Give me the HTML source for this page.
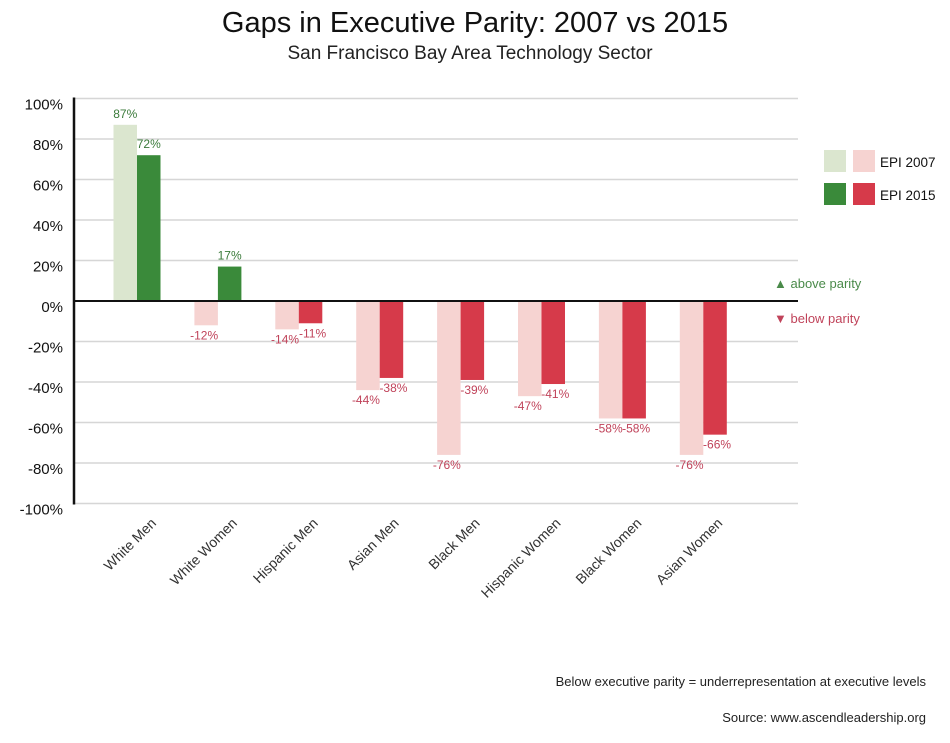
<!DOCTYPE html>
<html><head><meta charset="utf-8"><style>
html,body{margin:0;padding:0;background:#fff;}
body{width:950px;height:738px;overflow:hidden;font-family:"Liberation Sans",sans-serif;}
</style></head><body>
<svg width="950" height="738" viewBox="0 0 950 738" xmlns="http://www.w3.org/2000/svg" font-family="Liberation Sans, sans-serif">
<text x="475" y="32" text-anchor="middle" font-size="29" fill="#111">Gaps in Executive Parity: 2007 vs 2015</text>
<text x="470" y="59" text-anchor="middle" font-size="19" fill="#222">San Francisco Bay Area Technology Sector</text>
<g id="grid"></g>
<g id="bars"></g>
<g id="yaxis"></g>
<g id="xaxis"></g>
<g>
<rect x="824" y="150" width="22" height="22" fill="#dbe6cf"/>
<rect x="853" y="150" width="22" height="22" fill="#f6d3d1"/>
<text x="880" y="167" font-size="13.5" fill="#111">EPI 2007</text>
<rect x="824" y="183" width="22" height="22" fill="#3a8a3a"/>
<rect x="853" y="183" width="22" height="22" fill="#d63a4a"/>
<text x="880" y="200" font-size="13.5" fill="#111">EPI 2015</text>
</g>
<text x="774" y="288" font-size="13" fill="#4a8a4a">▲ above parity</text>
<text x="774" y="323" font-size="13" fill="#c0435a">▼ below parity</text>
<text x="926" y="686" text-anchor="end" font-size="13" fill="#222">Below executive parity = underrepresentation at executive levels</text>
<text x="926" y="722" text-anchor="end" font-size="13" fill="#222">Source: www.ascendleadership.org</text>
</svg>
<script>
const categories=["White Men","White Women","Hispanic Men","Asian Men","Black Men","Hispanic Women","Black Women","Asian Women"];
const epi2007=[87,-12,-14,-44,-76,-47,-58,-76];
const epi2015=[72,17,-11,-38,-39,-41,-58,-66];
const yTicks=[100,80,60,40,20,0,-20,-40,-60,-80,-100];
const NS="http://www.w3.org/2000/svg";
const y0=301, pxPer=2.025, x0=74, xEnd=798, c0=137, step=80.9, bw=23.5;
const yS=v=>y0-v*pxPer;
const xC=i=>c0+i*step;
function mk(tag,attrs,parent){const e=document.createElementNS(NS,tag);for(const k in attrs)e.setAttribute(k,attrs[k]);document.getElementById(parent).appendChild(e);return e;}
yTicks.forEach(t=>{
  if(t!==0){const l=mk('line',{x1:x0,x2:xEnd,y1:yS(t),y2:yS(t),stroke:'#d6d6d6','stroke-width':1.5},'grid');
  
  }
  const tx=mk('text',{x:63,y:yS(t)+11,'text-anchor':'end','font-size':15,fill:'#111'},'yaxis');
  tx.textContent=t+'%';
  
  
});
function bar(i,v,series){
  const pos=v>=0;
  const fill=series===0?(pos?'#dbe6cf':'#f6d3d1'):(pos?'#3a8a3a':'#d63a4a');
  const x=xC(i)+(series===0?-bw:0);
  const r=mk('rect',{x:x,y:Math.min(yS(v),y0),width:bw,height:Math.abs(yS(v)-y0),fill:fill},'bars');
  
  
  const t=mk('text',{x:x+bw/2+(pos?0:(series===0?-2:2)),y:pos?yS(v)-7:yS(v)+14,'text-anchor':'middle','font-size':12,fill:pos?'#3a7a3a':'#c0435a'},'bars');
  t.textContent=v+'%';
  
  
}
categories.forEach((c,i)=>{bar(i,epi2007[i],0);bar(i,epi2015[i],1);
  const lx=xC(i)+20, ly=524;
  const t=mk('text',{x:lx,y:ly,'text-anchor':'end','font-size':14,fill:'#333',transform:`rotate(-45 ${lx} ${ly})`},'xaxis');
  t.textContent=c;
  
  
});
const zl=mk('line',{x1:x0,x2:xEnd,y1:y0,y2:y0,stroke:'#111','stroke-width':2},'yaxis');


const ax=mk('line',{x1:x0,x2:x0,y1:yS(100)-1,y2:yS(-100)+1,stroke:'#111','stroke-width':2.5},'yaxis');


</script>
</body></html>
